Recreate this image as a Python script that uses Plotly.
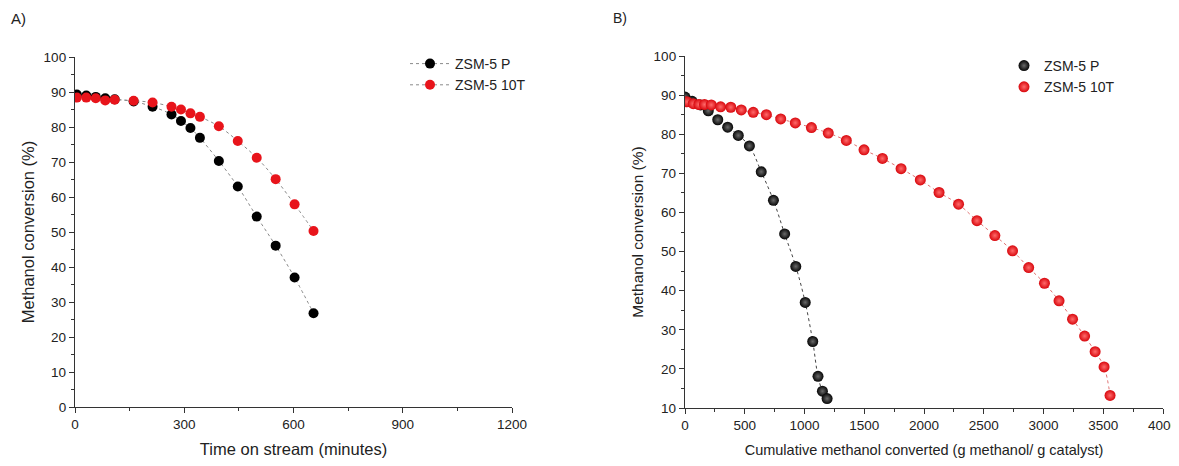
import plotly.graph_objects as go

# ---- Panel A: time on stream ----
a_time_p = [5, 31, 57, 83, 109, 161, 213, 265, 291, 317, 343, 395, 447, 499, 551, 603, 655]
a_conv_p = [89.3, 89.0, 88.6, 88.2, 87.9, 87.3, 85.8, 83.6, 81.7, 79.7, 76.9, 70.3, 63.0, 54.4, 46.1, 37.0, 26.8]
a_time_t = [5, 31, 57, 83, 109, 161, 213, 265, 291, 317, 343, 395, 447, 499, 551, 603, 655]
a_conv_t = [88.4, 88.4, 88.2, 87.6, 87.8, 87.5, 87.0, 85.8, 85.0, 83.9, 82.9, 80.2, 76.0, 71.2, 65.1, 57.9, 50.3]

# ---- Panel B: cumulative methanol converted ----
b_cum_p = [0, 60, 130, 195, 274, 357, 446, 539, 638, 740, 834, 927, 1006, 1069, 1113, 1150, 1189]
b_conv_p = [89.5, 88.4, 87.5, 86.0, 83.7, 81.8, 79.7, 77.0, 70.4, 63.1, 54.5, 46.2, 37.0, 27.0, 18.1, 14.3, 12.4]
b_cum_t = [16, 69, 116, 163, 220, 298, 383, 471, 571, 681, 801, 923, 1058, 1199, 1350, 1498,
           1652, 1808, 1969, 2126, 2289, 2443, 2593, 2741, 2876, 3008, 3130, 3243, 3344, 3432, 3507, 3557]
b_conv_t = [88.3, 87.8, 87.6, 87.6, 87.5, 87.0, 86.9, 86.2, 85.6, 85.0, 83.9, 82.9, 81.7, 80.3, 78.4, 76.0,
            73.8, 71.2, 68.3, 65.1, 62.1, 57.9, 54.1, 50.2, 45.9, 41.9, 37.4, 32.7, 28.4, 24.4, 20.5, 13.2]

names = ["ZSM-5 P", "ZSM-5 10T"]
BLACK = "#000000"
RED = "#e8141b"
FONT = "Liberation Sans, Arial, sans-serif"
TXT = "#222222"

fig = go.Figure()

# Panel A traces (dotted grey line + markers)
fig.add_trace(go.Scatter(x=a_time_p, y=a_conv_p, mode="lines+markers", name=names[0],
                         line=dict(color="#8a8a8a", width=1, dash="dot", shape="spline"),
                         marker=dict(color=BLACK, size=10), xaxis="x", yaxis="y", legend="legend"))
fig.add_trace(go.Scatter(x=a_time_t, y=a_conv_t, mode="lines+markers", name=names[1],
                         line=dict(color="#8a8a8a", width=1, dash="dot", shape="spline"),
                         marker=dict(color=RED, size=10), xaxis="x", yaxis="y", legend="legend"))

# Panel B lines
fig.add_trace(go.Scatter(x=b_cum_p, y=b_conv_p, mode="lines", showlegend=False,
                         line=dict(color="#444444", width=1, dash="dot", shape="spline"),
                         xaxis="x2", yaxis="y2", hoverinfo="skip"))
fig.add_trace(go.Scatter(x=b_cum_t, y=b_conv_t, mode="lines", showlegend=False,
                         line=dict(color="#e07070", width=1, dash="dot", shape="spline"),
                         xaxis="x2", yaxis="y2", hoverinfo="skip"))
# Panel B markers (shaded spheres)
fig.add_trace(go.Scatter(x=b_cum_p, y=b_conv_p, mode="markers", name=names[0],
                         marker=dict(color="#050505", size=11,
                                     gradient=dict(type="radial", color="#6a6a6a"),
                                     line=dict(width=0)),
                         xaxis="x2", yaxis="y2", legend="legend2"))
fig.add_trace(go.Scatter(x=b_cum_t, y=b_conv_t, mode="markers", name=names[1],
                         marker=dict(color="#d8070d", size=11,
                                     gradient=dict(type="radial", color="#ff6a6a"),
                                     line=dict(width=0)),
                         xaxis="x2", yaxis="y2", legend="legend2"))

axis_common = dict(showline=True, linecolor="#333333", linewidth=1.3, ticks="outside",
                   ticklen=5, tickwidth=1.2, tickcolor="#333333", showgrid=False, zeroline=False,
                   mirror=False, automargin=False, tickfont=dict(family=FONT, size=13.5, color=TXT))

# page has an 8px body margin; figure coordinates = page coordinates - 8
W, H = 1171, 450
def dx(a, b):
    return [(a - 8) / W, (b - 8) / W]
def dy(top, bottom):
    return [(H - (bottom - 8)) / H, (H - (top - 8)) / H]

fig.update_layout(
    width=W, height=H, margin=dict(l=0, r=0, t=0, b=0, autoexpand=False),
    paper_bgcolor="white", plot_bgcolor="white",
    font=dict(family=FONT, color=TXT),
    xaxis=dict(domain=dx(75, 512), range=[0, 1200], dtick=300, anchor="y",
               minor=dict(dtick=150, ticks="outside", ticklen=3, tickcolor="#333333"),
               title=dict(text="Time on stream (minutes)", font=dict(size=16.5, family=FONT, color=TXT), standoff=19),
               **axis_common),
    yaxis=dict(domain=dy(57, 407), range=[0, 100], dtick=10, anchor="x",
               minor=dict(dtick=5, ticks="outside", ticklen=3, tickcolor="#333333"),
               title=dict(text="Methanol conversion (%)", font=dict(size=16.5, family=FONT, color=TXT), standoff=4),
               **axis_common),
    xaxis2=dict(domain=dx(685, 1163), range=[0, 4000], dtick=500, anchor="y2",
                minor=dict(dtick=250, ticks="outside", ticklen=3, tickcolor="#333333"),
                title=dict(text="Cumulative methanol converted (g methanol/ g catalyst)",
                           font=dict(size=14.5, family=FONT, color=TXT), standoff=20),
                **axis_common),
    yaxis2=dict(domain=dy(56, 408), range=[10, 100], dtick=10, anchor="x2",
                minor=dict(dtick=5, ticks="outside", ticklen=3, tickcolor="#333333"),
                title=dict(text="Methanol conversion (%)", font=dict(size=15.5, family=FONT, color=TXT), standoff=6),
                **axis_common),
    legend=dict(x=(405 - 8) / W, y=1 - (48 - 8) / H, xanchor="left", yanchor="top", bgcolor="rgba(0,0,0,0)",
                font=dict(size=14, family=FONT, color=TXT), itemwidth=40, tracegroupgap=0),
    legend2=dict(x=(1004 - 8) / W, y=1 - (50 - 8) / H, xanchor="left", yanchor="top", bgcolor="rgba(0,0,0,0)",
                 font=dict(size=14, family=FONT, color=TXT), itemwidth=30),
    annotations=[
        dict(text="A)", x=(9 - 8) / W, y=1 - (18 - 8) / H, xref="paper", yref="paper", showarrow=False,
             xanchor="left", yanchor="middle", font=dict(size=15, family=FONT, color=TXT)),
        dict(text="B)", x=(611 - 8) / W, y=1 - (18 - 8) / H, xref="paper", yref="paper", showarrow=False,
             xanchor="left", yanchor="middle", font=dict(size=14, family=FONT, color=TXT)),
    ],
    showlegend=True,
)

fig.write_html("out.html")
